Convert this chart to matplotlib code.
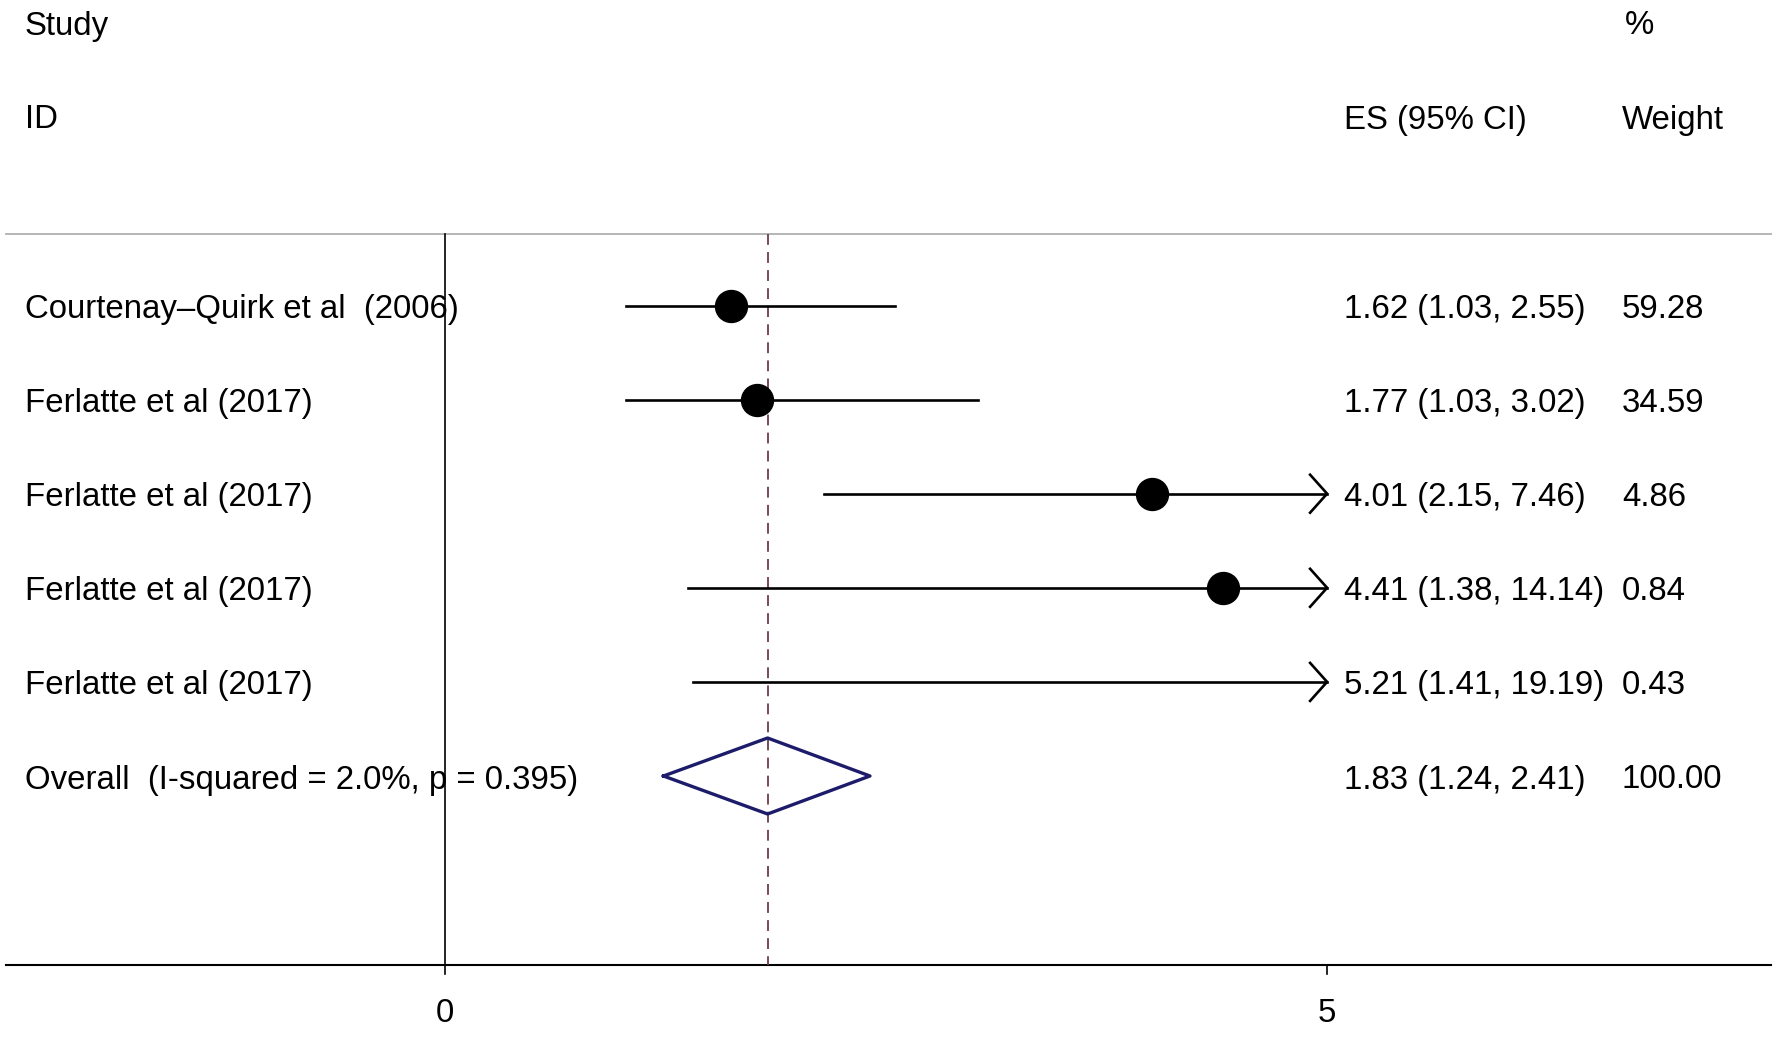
import numpy as np
import matplotlib.pyplot as plt

plt.rcParams.update({
    "font.family": ["Liberation Sans", "DejaVu Sans"],
    "font.size": 23.8,
})

studies = ["Courtenay\u2013Quirk et al  (2006)", "Ferlatte et al (2017)",
           "Ferlatte et al (2017)", "Ferlatte et al (2017)", "Ferlatte et al (2017)"]
es = [1.62, 1.77, 4.01, 4.41, 5.21]
lo = [1.03, 1.03, 2.15, 1.38, 1.41]
hi = [2.55, 3.02, 7.46, 14.14, 19.19]
weights = [59.28, 34.59, 4.86, 0.84, 0.43]
overall_label = "Overall  (I-squared = 2.0%, p = 0.395)"
overall = (1.83, 1.24, 2.41)
xticks = [0, 5]

W, H = 1774, 1037
px0, ppu = 444.6, 176.5          # pixel of x=0, pixels per unit
xmax_plot = 5.0

fig = plt.figure(figsize=(W / 100, H / 100), dpi=100)
ax = fig.add_axes([0, 0, 1, 1])
ax.set_xlim(-px0 / ppu, (W - px0) / ppu)
ax.set_ylim(H, 0)
ax.axis("off")

x_left, x_right = (5.7 - px0) / ppu, (1770.6 - px0) / ppu
y_top, y_axis = 234, 965
row0, dy = 305.5, 94.1
toff = 4                          # text nudge down
x_lab = (25 - px0) / ppu
x_es = (1344 - px0) / ppu
x_wt = (1622 - px0) / ppu

# header
ax.text(x_lab, 22 + toff, "Study", va="center", ha="left")
ax.text(x_lab, 116 + toff, "ID", va="center", ha="left")
ax.text(x_es, 116 + toff, "ES (95% CI)", va="center", ha="left")
ax.text((1625 - px0) / ppu, 22 + toff, "%", va="center", ha="left")
ax.text(x_wt, 116 + toff, "Weight", va="center", ha="left")

# frame lines
ax.plot([x_left, x_right], [y_top, y_top], color="#b0b0b0", lw=1.3)
ax.plot([x_left, x_right], [y_axis, y_axis], color="black", lw=1.5)
ax.plot([0, 0], [y_top, y_axis], color="black", lw=1.2)
ax.plot([overall[0]] * 2, [y_top, y_axis], color="#6e3c48", lw=1.3,
        dashes=(6, 4))
for t in xticks:
    ax.plot([t, t], [y_axis, y_axis + 9], color="black", lw=1.2)
    ax.text(t, 1009 + toff, str(t), ha="center", va="center")

# studies
ah_dx, ah_dy = 17 / ppu, 19
for i, (s, e, l, h, w) in enumerate(zip(studies, es, lo, hi, weights)):
    y = row0 + i * dy
    ax.text(x_lab, y + toff, s, va="center", ha="left")
    right = min(h, xmax_plot)
    ax.plot([l, right], [y, y], color="black", lw=1.9, zorder=3)
    if h > xmax_plot:
        ax.plot([xmax_plot - ah_dx, xmax_plot, xmax_plot - ah_dx],
                [y - ah_dy, y, y + ah_dy], color="black", lw=1.9, zorder=3)
    if e <= xmax_plot:
        ax.plot(e, y, "o", color="black", ms=23, zorder=4)
    ax.text(x_es, y + toff, f"{e:.2f} ({l:.2f}, {h:.2f})", va="center", ha="left")
    ax.text(x_wt, y + toff, f"{w:.2f}", va="center", ha="left")

# overall
y = row0 + len(studies) * dy
ax.text(x_lab, y + toff, overall_label, va="center", ha="left")
m, l, h = overall
ax.plot([l, m, h, m, l], [y, y - 38, y, y + 38, y], color="#1c1c6b", lw=2.4,
        zorder=3)
ax.text(x_es, y + toff, f"{m:.2f} ({l:.2f}, {h:.2f})", va="center", ha="left")
ax.text(x_wt, y + toff, "100.00", va="center", ha="left")

fig.savefig("out.png", dpi=100, facecolor="white")
